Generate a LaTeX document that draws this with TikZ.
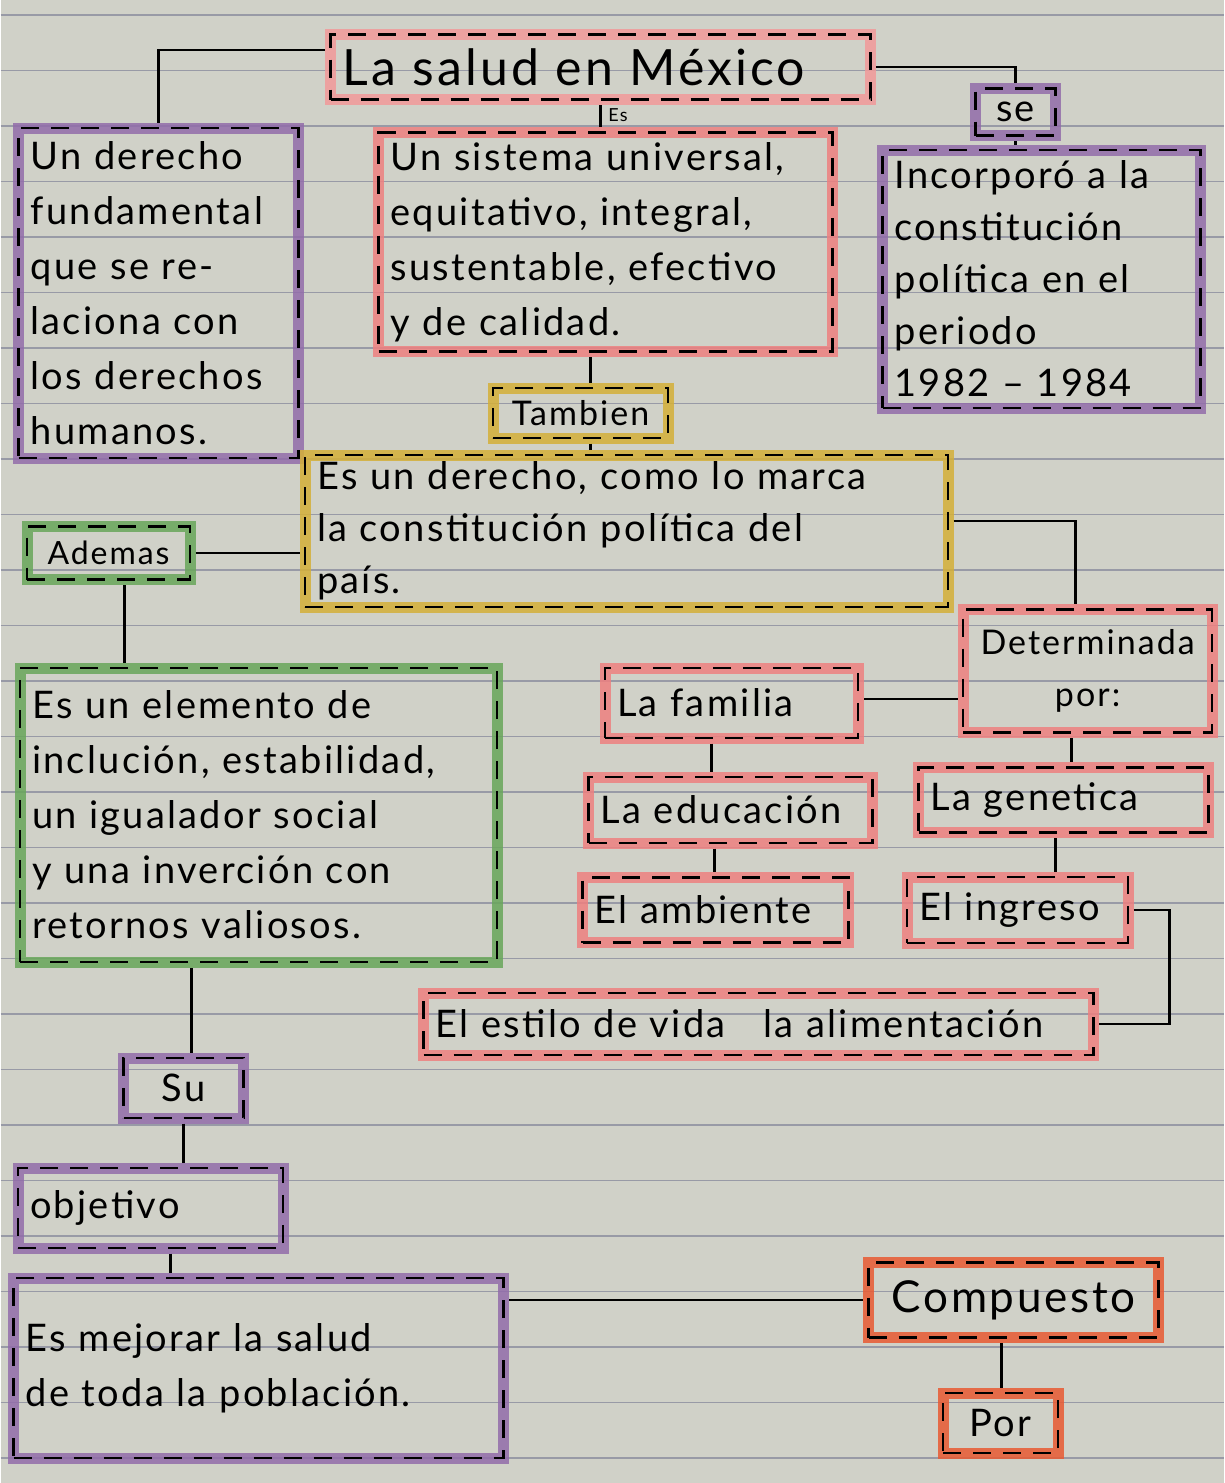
\documentclass[tikz,border=0pt]{standalone}
\usepackage{fontspec}
\setmainfont{Lato}[LetterSpace=6]
\usepackage{xcolor}
\usepackage{tikz}
\definecolor{paper}{RGB}{208, 209, 200}
\definecolor{ruling}{RGB}{152, 154, 166}
\definecolor{salmon}{RGB}{238, 128, 128}
\definecolor{lilac}{RGB}{146, 108, 170}
\definecolor{mustard}{RGB}{212, 176, 56}
\definecolor{leaf}{RGB}{104, 166, 90}
\definecolor{coral}{RGB}{232, 90, 50}
\tikzset{
  mapbox/.style={draw=#1, line width=5.5pt, draw opacity=0.85, inner xsep=6pt, inner ysep=2pt,
    align=left, font=\fontsize{19}{27.5}\selectfont,
    postaction={draw=black, draw opacity=1, line width=1.2pt, dash pattern=on 9pt off 6pt}},
  tagbox/.style={mapbox=#1, align=center, font=\fontsize{17}{20}\selectfont},
  link/.style={draw=black, line width=1.2pt}
}

\begin{document}
\begin{tikzpicture}[x=0.5pt, y=-0.5pt]
        % notebook page
        \fill[paper] (0,0) rectangle (1223,1483);
        \foreach \k in {0,...,26}
            \draw[ruling, line width=0.6pt] (0,15+55.5*\k) -- (1223,15+55.5*\k);
        \useasboundingbox (0,0) rectangle (1223,1483);

        \node[mapbox=salmon!80, text width=258pt, minimum height=32.5pt, font=\fontsize{25}{28}\selectfont] (title) at (600,67) {La salud en México};
        \node[tagbox=lilac, text width=28pt, minimum height=23.5pt, font=\fontsize{19}{22}\selectfont] (se) at (1015,112) {se};

        \node[mapbox=lilac, text width=128pt, minimum height=165pt] (der) at (158,293)
            {Un derecho\\fundamental\\que se re-\\laciona con\\los derechos\\humanos.};
        \node[mapbox=salmon, text width=215pt, minimum height=109.5pt] (sis) at (605,242)
            {Un sistema universal,\\equitativo, integral,\\sustentable, efectivo\\y de calidad.};
        \node[mapbox=lilac, text width=147pt, minimum height=129pt, font=\fontsize{19}{26}\selectfont] (inc) at (1041,279)
            {Incorporó a la\\constitución\\política en el\\periodo\\1982 -- 1984};

        \node[tagbox=mustard, text width=75.5pt, minimum height=25pt] (tam) at (580,413) {Tambien};
        \node[mapbox=mustard, text width=309.5pt, minimum height=76pt, font=\fontsize{19}{26}\selectfont] (yel) at (626,531)
            {Es un derecho, como lo marca\\la constitución política del\\país.};

        \node[tagbox=leaf, text width=69.5pt, minimum height=26.5pt, font=\fontsize{16}{20}\selectfont] (ade) at (108,553) {Ademas};
        \node[mapbox=leaf, text width=226.5pt, minimum height=147pt] (gre) at (258,815)
            {Es un elemento de\\inclución, estabilidad,\\un igualador social\\y una inverción con\\retornos valiosos.};

        \node[tagbox=salmon, text width=112.5pt, minimum height=61.5pt, font=\fontsize{17}{26}\selectfont] (det) at (1087,671) {Determinada\\por:};
        \node[mapbox=salmon, text width=114.5pt, minimum height=35pt] (fam) at (731,703) {La familia};
        \node[mapbox=salmon, text width=130pt, minimum height=33pt] (edu) at (730,810) {La educación};
        \node[mapbox=salmon, text width=133pt, minimum height=32.5pt] (gen) at (1063,800) {La genetica};
        \node[mapbox=salmon, text width=121pt, minimum height=32.5pt] (amb) at (715,910) {El ambiente};
        \node[mapbox=salmon, text width=98.5pt, minimum height=33pt] (ing) at (1017,910) {El ingreso};
        \node[mapbox=salmon, text width=323pt, minimum height=31pt] (est) at (758,1024) {El estilo de vida\quad la alimentación};

        \node[tagbox=lilac, text width=48pt, minimum height=30pt, font=\fontsize{19}{22}\selectfont] (su) at (183,1088) {Su};
        \node[mapbox=lilac, text width=120.5pt, minimum height=40pt] (obj) at (150,1208) {objetivo};
        \node[mapbox=lilac, text width=233pt, minimum height=90pt] (mej) at (258,1368)
            {Es mejorar la salud\\de toda la población.\\[14pt]};

        \node[tagbox=coral, text width=133pt, minimum height=37.5pt, font=\fontsize{22}{26}\selectfont] (com) at (1013,1300) {Compuesto};
        \node[tagbox=coral, text width=45.5pt, minimum height=30pt, font=\fontsize{19}{22}\selectfont] (por) at (1000,1423) {Por};

        % connectors
        \draw[link] ([yshift=8.5pt]title.west) -| (der.north);
        \draw[link] (title.east) -| (se.north);
        \draw[link] (title.south) -- (title.south |- sis.north)
            node[pos=0.45, right, font=\fontsize{9}{10}\selectfont] (es) {Es};
        \draw[link] (se.south) -- (se.south |- inc.north);
        \draw[link] ([xshift=5pt]tam.north) -- ([xshift=5pt]tam.north |- sis.south);
        \draw[link] ([xshift=5pt]tam.south) -- ([xshift=5pt]tam.south |- yel.north);
        \draw[link] (ade.east) -- (ade.east -| yel.west);
        \draw[link] ([xshift=8pt]ade.south) -- ([xshift=8pt]ade.south |- gre.north);
        \draw[link] ([yshift=5pt]yel.east) -| ([xshift=-6pt]det.north);
        \draw[link] ([yshift=-14pt]det.west) -- ([yshift=-14pt]det.west -| fam.east);
        \draw[link] ([xshift=-10pt]fam.south) -- ([xshift=-10pt]fam.south |- edu.north);
        \draw[link] ([xshift=-8pt]edu.south) -- ([xshift=-8pt]edu.south |- amb.north);
        \draw[link] ([xshift=-8pt]det.south) -- ([xshift=-8pt]det.south |- gen.north);
        \draw[link] ([xshift=-4pt]gen.south) -- ([xshift=-4pt]gen.south |- ing.north);
        \draw[link] (ing.east) -- ++(18pt,0) |- (est.east);
        \draw[link] ([xshift=4pt]su.north) -- ([xshift=4pt]su.north |- gre.south);
        \draw[link] (su.south) -- (su.south |- obj.north);
        \draw[link] ([xshift=10pt]obj.south) -- ([xshift=10pt]obj.south |- mej.north);
        \draw[link] (com.west) -- (com.west -| mej.east);
        \draw[link] ([xshift=-6pt]com.south) -- ([xshift=-6pt]com.south |- por.north);
\end{tikzpicture}
\end{document}
